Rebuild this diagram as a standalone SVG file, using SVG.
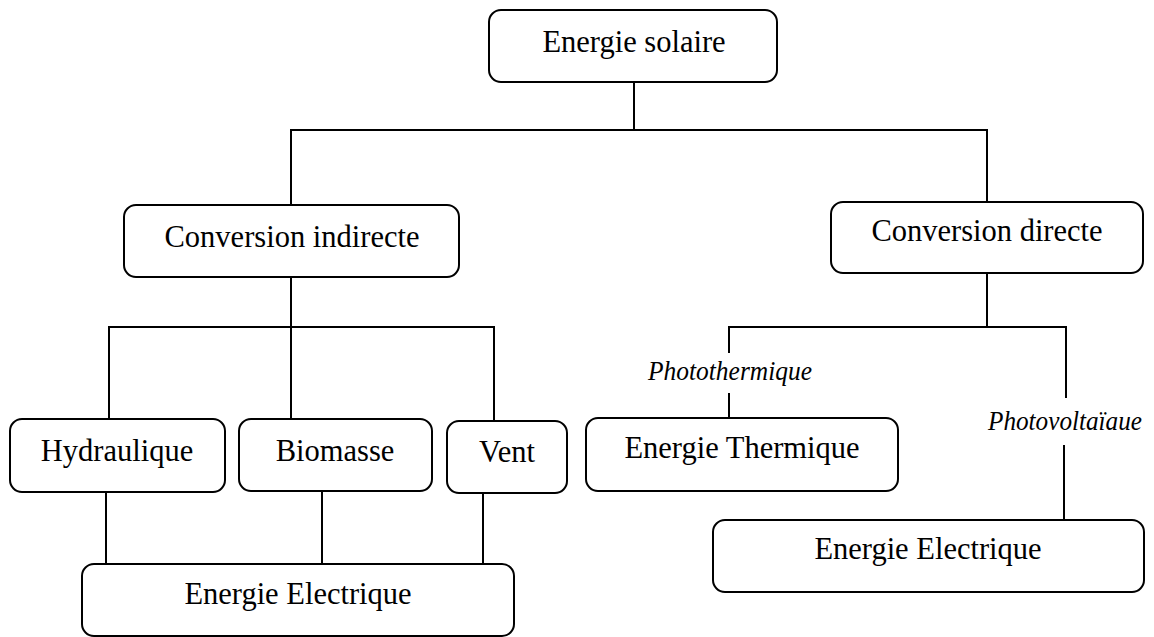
<svg xmlns="http://www.w3.org/2000/svg" width="1154" height="637" viewBox="0 0 1154 637">
  <style>
    .box { fill: #ffffff; stroke: #000000; stroke-width: 2; }
    .lbl { font-family: "Liberation Serif", "Times New Roman", serif; font-size: 30.5px; fill: #000000; text-anchor: middle; }
    .tag { font-family: "Liberation Serif", "Times New Roman", serif; font-size: 27px; font-style: italic; fill: #000000; text-anchor: middle; }
    .wire { fill: none; stroke: #000000; stroke-width: 2; }
  </style>
  <rect width="1154" height="637" fill="#ffffff"/>

  <!-- tree connectors -->
  <g id="connectors" class="wire">
    <path d="M634 82 V130"/>
    <path d="M291 205 V130 H987 V202"/>
    <path d="M291 277 V327"/>
    <path d="M109 419 V327 H494 V421"/>
    <path d="M291 327 V419"/>
    <path d="M106 492 V564"/>
    <path d="M322 491 V564"/>
    <path d="M483 493 V564"/>
    <path d="M987 273 V327"/>
    <path d="M729 353 V327 H1066 V398"/>
    <path d="M729 393 V418"/>
    <path d="M1064 445 V520"/>
  </g>

  <g id="energie-solaire">
    <rect class="box" x="489" y="10" width="288" height="72" rx="12"/>
    <text class="lbl" x="634" y="52">Energie solaire</text>
  </g>

  <g id="conversion-indirecte">
    <rect class="box" x="124" y="205" width="335" height="72" rx="12"/>
    <text class="lbl" x="292" y="247">Conversion indirecte</text>
  </g>

  <g id="conversion-directe">
    <rect class="box" x="831" y="202" width="312" height="71" rx="12"/>
    <text class="lbl" x="987" y="241">Conversion directe</text>
  </g>

  <g id="hydraulique">
    <rect class="box" x="10" y="419" width="215" height="73" rx="12"/>
    <text class="lbl" x="117" y="461">Hydraulique</text>
  </g>

  <g id="biomasse">
    <rect class="box" x="239" y="419" width="193" height="72" rx="12"/>
    <text class="lbl" x="335" y="461">Biomasse</text>
  </g>

  <g id="vent">
    <rect class="box" x="447" y="421" width="120" height="72" rx="12"/>
    <text class="lbl" x="507" y="462">Vent</text>
  </g>

  <g id="energie-electrique-indirecte">
    <rect class="box" x="82" y="564" width="432" height="72" rx="12"/>
    <text class="lbl" x="298" y="604">Energie Electrique</text>
  </g>

  <g id="photothermique">
    <text class="tag" x="730" y="380" textLength="164" lengthAdjust="spacingAndGlyphs">Photothermique</text>
  </g>

  <g id="energie-thermique">
    <rect class="box" x="586" y="418" width="312" height="73" rx="12"/>
    <text class="lbl" x="742" y="458">Energie Thermique</text>
  </g>

  <g id="photovoltaique">
    <text class="tag" x="1065" y="430" textLength="154" lengthAdjust="spacingAndGlyphs">Photovoltaïaue</text>
  </g>

  <g id="energie-electrique-directe">
    <rect class="box" x="713" y="520" width="431" height="72" rx="12"/>
    <text class="lbl" x="928" y="559">Energie Electrique</text>
  </g>
</svg>
